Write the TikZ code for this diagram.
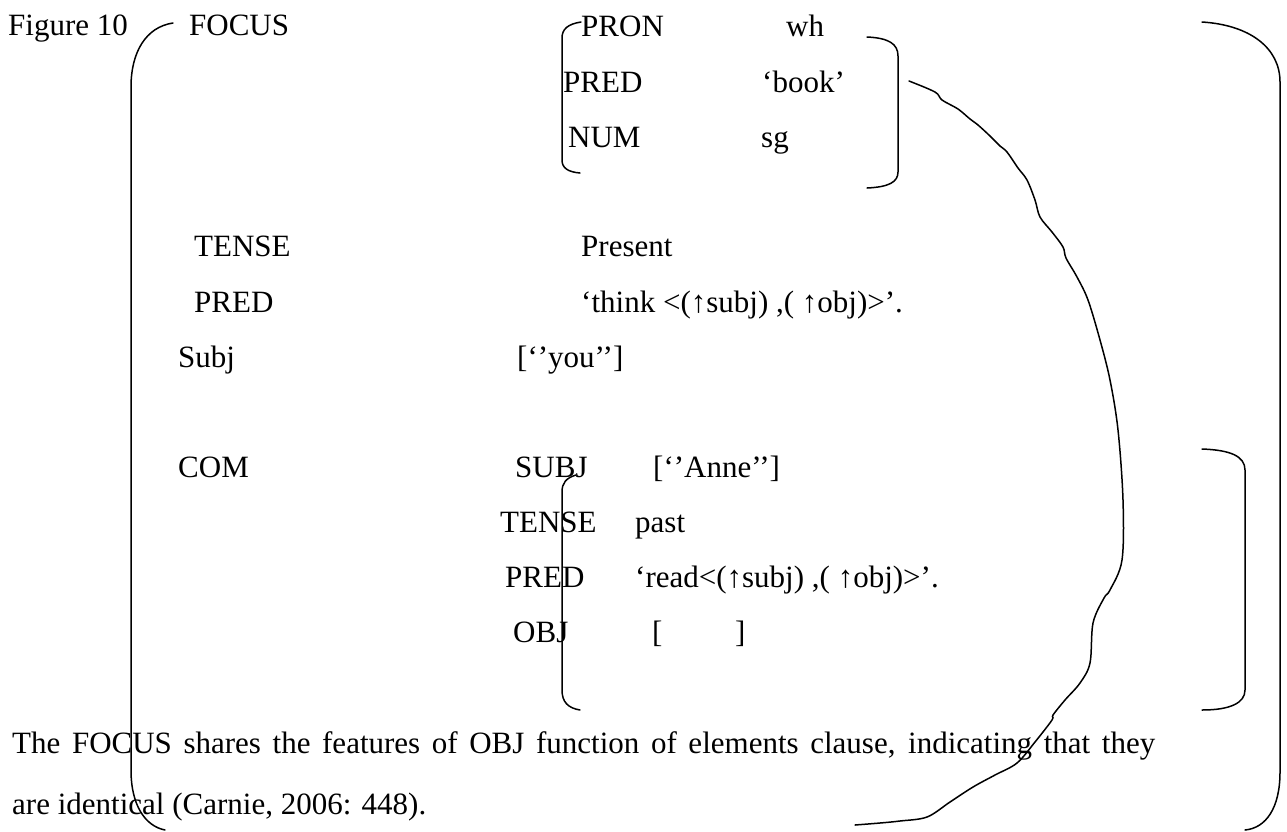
\documentclass[tikz,border=0pt]{standalone}
\usepackage{fontspec}
\setmainfont{Liberation Serif}
\tikzset{
  lbl/.style={anchor=base west, inner sep=0pt, font=\fontsize{31}{37}\selectfont},
  brk/.style={line width=1.5pt, line cap=round, line join=round},
}
\begin{document}
\begin{tikzpicture}[x=1pt,y=-1pt]
\fill[white] (0,0) rectangle (1287,831);
\useasboundingbox (0,0) rectangle (1287,831);

% caption and outer attribute
\node[lbl] (fig)   at (8,35)   {Figure 10};
\node[lbl] (focus) at (189,35) {FOCUS};

% FOCUS value
\node[lbl] (pron)  at (581,36)  {PRON};
\node[lbl] (wh)    at (786,36)  {wh};
\node[lbl] (pred1) at (563,92)  {PRED};
\node[lbl] (book)  at (762,92)  {‘book’};
\node[lbl] (num)   at (568,147) {NUM};
\node[lbl] (sg)    at (761,147) {sg};

% main clause
\node[lbl] (tense1) at (194,256) {TENSE};
\node[lbl] (pres)   at (581,256) {Present};
\node[lbl] (pred2)  at (194,312) {PRED};
\node[lbl] (think)  at (581,312) {‘think <(↑subj) ,( ↑obj)>’.};
\node[lbl] (subj1)  at (178,367) {Subj};
\node[lbl] (you)    at (517,367) {[‘’you’’]};
\node[lbl] (com)    at (178,477) {COM};

% embedded clause
\node[lbl] (subj2)  at (515,477) {SUBJ};
\node[lbl] (anne)   at (653,477) {[‘’Anne’’]};
\node[lbl] (tense2) at (500,532) {TENSE};
\node[lbl] (past)   at (635,532) {past};
\node[lbl] (pred3)  at (505,587) {PRED};
\node[lbl] (read)   at (635,587) {‘read<(↑subj) ,( ↑obj)>’.};
\node[lbl] (obj)    at (513,642) {OBJ};
\node[lbl] (lb)     at (652,642) {[};
\node[lbl] (rb)     at (735,642) {]};

% explanatory text
\node[lbl] (p1) at (12,753) {\makebox[1143pt][s]{The FOCUS shares the features of OBJ function of elements clause, indicating that they}};
\node[lbl] (p2) at (12,814) {are identical (Carnie, 2006: 448).};

% outer brackets
\draw[brk] (173,23) .. controls (146,27) and (131,52) .. (131,87) -- (131,770)
           .. controls (131,805) and (145,826) .. (165,830);
\draw[brk] (1202,22) .. controls (1250,25) and (1280,48) .. (1280,82) -- (1280,772)
           .. controls (1280,808) and (1266,828) .. (1245,830);

% FOCUS value brackets
\draw[brk] (581,22) .. controls (568,24) and (562,29) .. (562,38) -- (562,160)
           .. controls (562,168) and (568,172) .. (580,173);
\draw[brk] (867,37) .. controls (889,38) and (898,44) .. (898,56) -- (898,172)
           .. controls (898,182) and (889,187) .. (867,188);

% COM value brackets
\draw[brk] (576,475) .. controls (566,478) and (562,483) .. (562,492) -- (562,690)
           .. controls (562,702) and (568,708) .. (580,710);
\draw[brk] (1202,449) .. controls (1230,450) and (1245,456) .. (1245,470) -- (1245,690)
           .. controls (1245,703) and (1230,710) .. (1202,710);

% freehand link between the FOCUS value and the object
\draw[brk] plot[smooth, tension=0.55] coordinates {
  (909,81) (935,92) (942,100) (958,109) (970,119) (978,125) (990,136) (1000,146)
  (1007,152) (1018,168) (1027,180) (1035,200) (1040,217) (1052,232) (1063,247)
  (1066,258) (1077,277) (1088,300) (1100,340) (1110,380) (1118,430) (1123,500)
  (1122,560) (1110,590) (1104,598) (1093,623) (1090,663) (1080,683) (1065,700)
  (1053,715) (1052,720) (1035,742) (1017,763) (995,775) (973,787) (950,802)
  (927,817) (900,821) (880,823) (855,825)};
\end{tikzpicture}
\end{document}
